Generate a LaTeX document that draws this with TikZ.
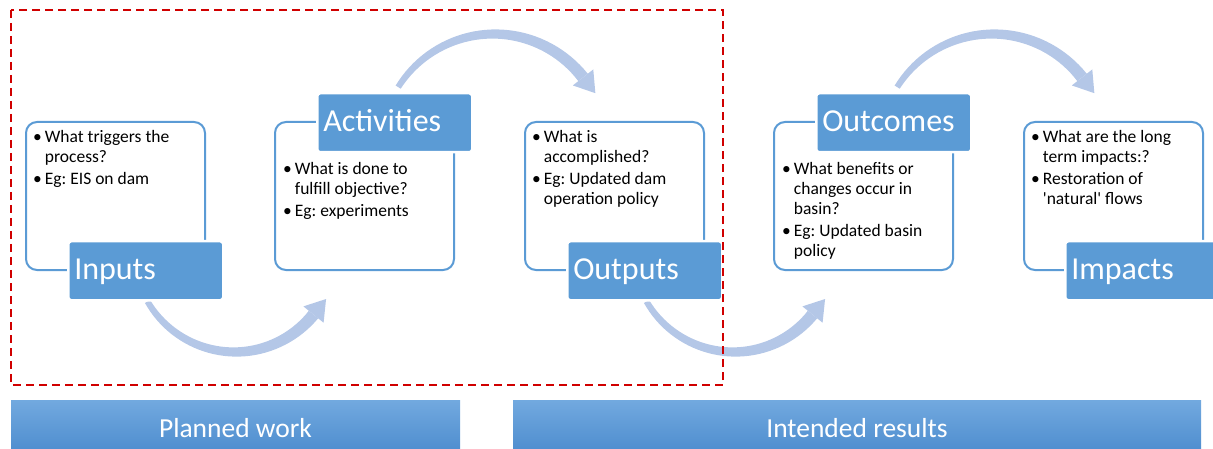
\documentclass[tikz,border=0pt]{standalone}
\usepackage{fontspec}
\setmainfont{Carlito}
\usetikzlibrary{calc}
\frenchspacing
\definecolor{lblue}{HTML}{5B9BD5}
\definecolor{arrowc}{HTML}{B4C7E7}
\definecolor{dred}{HTML}{D00000}
\definecolor{bartop}{HTML}{72A9DF}
\definecolor{barbot}{HTML}{4F8ECF}
% tapered curved arrow: centre x, centre y, radius, start angle, end angle
\newcommand\curvearrow[5]{%
  \pgfmathsetmacro\arsgn{ifthenelse(#5>#4,1,-1)}%
  \fill[arrowc] plot[domain=#4:#5,samples=40,variable=\t]
      ({#1+(#3+(3+3*(\t-#4)/(#5-#4)))*cos(\t)},{#2+(#3+(3+3*(\t-#4)/(#5-#4)))*sin(\t)})
    -- plot[domain=#5:#4,samples=40,variable=\t]
      ({#1+(#3-(3+3*(\t-#4)/(#5-#4)))*cos(\t)},{#2+(#3-(3+3*(\t-#4)/(#5-#4)))*sin(\t)})
    -- cycle;
  \fill[arrowc] ({#1+(#3+13)*cos(#5)},{#2+(#3+13)*sin(#5)})
    -- ({#1+#3*cos(#5)-20*\arsgn*sin(#5)},{#2+#3*sin(#5)+20*\arsgn*cos(#5)})
    -- ({#1+(#3-13)*cos(#5)},{#2+(#3-13)*sin(#5)}) -- cycle;
}
\begin{document}
\begin{tikzpicture}[x=1pt,y=-1pt,
  tbox/.style={draw=lblue, line width=2pt, rounded corners=11pt, fill=white,
    minimum width=179pt, minimum height=148pt, anchor=north west, inner sep=0pt},
  lab/.style={fill=lblue, draw=white, line width=2.5pt, rounded corners=3pt, text=white,
    font=\fontsize{32}{36}\selectfont, text width=143pt, align=left,
    text height=24pt, text depth=7pt, inner xsep=6pt, inner ysep=14pt, anchor=north west},
  btext/.style={font=\fontsize{17.5}{20}\selectfont, inner sep=0pt, anchor=base west},
  bar/.style={top color=bartop, bottom color=barbot, draw=none, minimum height=50pt,
    anchor=north west, inner sep=0pt},
  bartext/.style={text=white, font=\fontsize{27.5}{30}\selectfont, anchor=base, inner sep=0pt},
  region/.style={draw=dred, line width=2pt, dash pattern=on 8pt off 5pt}
]
\clip (0,0) rectangle (1213,449);

% curved arrows
\curvearrow{235}{251}{101}{150}{39}
\curvearrow{494}{147}{113}{212}{322}
\curvearrow{734}{251}{101}{150}{39}
\curvearrow{993}{147}{113}{212}{322}

% text boxes
\node[tbox] (inB)  at (25,121)   {};
\node[tbox] (actB) at (274,121)  {};
\node[tbox] (outB) at (524,121)  {};
\node[tbox] (ocB)  at (773,121)  {};
\node[tbox] (imB)  at (1023,121) {};

% labels
\node[lab] (inL)  at (67,240)   {Inputs};
\node[lab] (actL) at (316,92)   {Activities};
\node[lab] (outL) at (566,240)  {Outputs};
\node[lab] (ocL)  at (815,92)   {Outcomes};
\node[lab] (imL)  at (1064,240) {Impacts};

% bullet texts
\node[btext] (inT) at (33,143) {\begin{tabular}[t]{@{}l@{\hspace{3pt}}l@{}}
  • & What triggers the\\ & process?\\[2pt]
  • & Eg: EIS on dam\end{tabular}};
\node[btext] (actT) at (283,175) {\begin{tabular}[t]{@{}l@{\hspace{3pt}}l@{}}
  • & What is done to\\ & fulfill objective?\\[2pt]
  • & Eg: experiments\end{tabular}};
\node[btext] (outT) at (532,143) {\begin{tabular}[t]{@{}l@{\hspace{3pt}}l@{}}
  • & What is\\ & accomplished?\\[2pt]
  • & Eg: Updated dam\\ & operation policy\end{tabular}};
\node[btext] (ocT) at (782,175) {\begin{tabular}[t]{@{}l@{\hspace{3pt}}l@{}}
  • & What benefits or\\ & changes occur in\\ & basin?\\[2pt]
  • & Eg: Updated basin\\ & policy\end{tabular}};
\node[btext] (imT) at (1031,143) {\begin{tabular}[t]{@{}l@{\hspace{3pt}}l@{}}
  • & What are the long\\ & term impacts:?\\[2pt]
  • & Restoration of\\ & \textquotesingle natural\textquotesingle{} flows\end{tabular}};

% dashed region
\draw[region] (11,10) rectangle (723,385);

% bottom bars
\node[bar, minimum width=449pt] (pw) at (11,400) {};
\node[bar, minimum width=688pt] (ir) at (513,400) {};
\node[bartext] at (235.5,437) {Planned work};
\node[bartext] at (857,437) {Intended results};
\end{tikzpicture}
\end{document}
